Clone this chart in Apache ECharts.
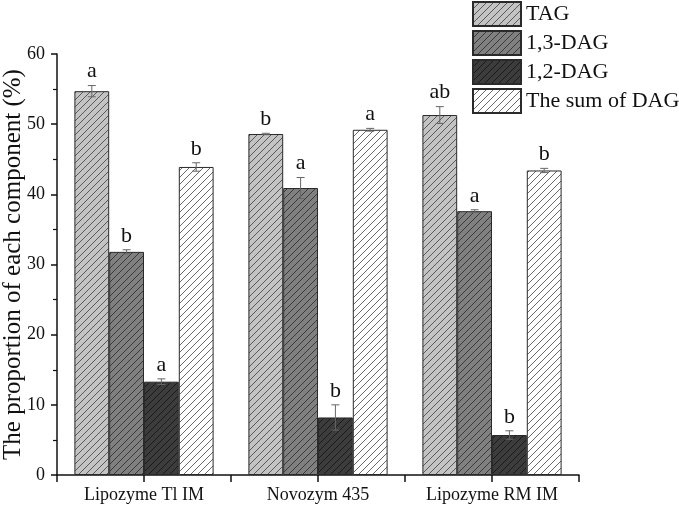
<!DOCTYPE html>
<html>
<head>
<meta charset="utf-8">
<script src="https://cdn.jsdelivr.net/npm/echarts@6/dist/echarts.min.js"></script>
<style>html,body{margin:0;padding:0;background:#fff}#c{width:679px;height:508px}</style>
</head>
<body>
<div id="c"></div>
<script>
var categories = ['Lipozyme Tl IM', 'Novozym 435', 'Lipozyme RM IM'];
var seriesNames = ['TAG', '1,3-DAG', '1,2-DAG', 'The sum of DAG'];
var tagValues = [54.7, 48.6, 51.3];
var dag13Values = [31.8, 40.9, 37.6];
var dag12Values = [13.3, 8.2, 5.7];
var sumValues = [43.9, 49.2, 43.4];
var tagErr = [0.8, 0.1, 1.2];
var dag13Err = [0.3, 1.5, 0.2];
var dag12Err = [0.4, 1.8, 0.6];
var sumErr = [0.6, 0.2, 0.3];
var tagLetters = ['a', 'b', 'ab'];
var dag13Letters = ['b', 'a', 'a'];
var dag12Letters = ['a', 'b', 'b'];
var sumLetters = ['b', 'a', 'b'];
var yTicks = [0, 10, 20, 30, 40, 50, 60];

var values = [tagValues, dag13Values, dag12Values, sumValues];
var errs = [tagErr, dag13Err, dag12Err, sumErr];
var letters = [tagLetters, dag13Letters, dag12Letters, sumLetters];
var fills = ['#c3c3c3', '#808080', '#3c3c3c', '#ffffff'];
var hatch = ['#5a5a5a', '#3a3a3a', '#1a1a1a', '#6a6a6a'];

function makePattern(bg, line) {
  var s = 7;
  var cv = document.createElement('canvas');
  cv.width = s; cv.height = s;
  var ctx = cv.getContext('2d');
  ctx.fillStyle = bg; ctx.fillRect(0, 0, s, s);
  ctx.strokeStyle = line; ctx.lineWidth = 1;
  [0, s, 2 * s].forEach(function (c) {
    ctx.beginPath(); ctx.moveTo(0, c); ctx.lineTo(c, 0); ctx.stroke();
  });
  return { image: cv, repeat: 'repeat' };
}

var FONT = '"Liberation Serif", "Times New Roman", serif';
var chart = echarts.init(document.getElementById('c'), null, { renderer: 'canvas' });

var series = [];
seriesNames.forEach(function (name, i) {
  series.push({
    name: name,
    type: 'bar',
    xAxisIndex: 0,
    barWidth: '20%',
    barGap: '0%',
    data: values[i],
    itemStyle: { color: makePattern(fills[i], hatch[i]), borderColor: '#2a2a2a', borderWidth: 1 },
    emphasis: { disabled: true },
    silent: true
  });
});
seriesNames.forEach(function (name, i) {
  series.push({
    name: name + '_err',
    type: 'custom',
    xAxisIndex: 0,
    silent: true,
    z: 10,
    data: values[i].map(function (v, k) { return [k, v, errs[i][k]]; }),
    renderItem: function (params, api) {
      var k = api.value(0), v = api.value(1), e = api.value(2);
      var band = api.size([1, 0])[0];
      var off = (i - 1.5) * band * 0.2;
      var top = api.coord([k, v + e]);
      var bot = api.coord([k, v - e]);
      var x = top[0] + off;
      var cap = 4;
      var st = { stroke: '#666', lineWidth: 1 };
      return {
        type: 'group',
        children: [
          { type: 'line', shape: { x1: x, y1: top[1], x2: x, y2: bot[1] }, style: st },
          { type: 'line', shape: { x1: x - cap, y1: top[1], x2: x + cap, y2: top[1] }, style: st },
          { type: 'line', shape: { x1: x - cap, y1: bot[1], x2: x + cap, y2: bot[1] }, style: st },
          { type: 'text', x: x, y: top[1] - 3, style: { text: letters[i][k], fill: '#111', font: '22px ' + FONT, align: 'center', verticalAlign: 'bottom' } }
        ]
      };
    }
  });
});

chart.setOption({
  animation: false,
  backgroundColor: '#fff',
  grid: { left: 57, right: 100, top: 54, bottom: 33, containLabel: false, outerBoundsMode: 'none' },
  legend: {
    data: seriesNames.map(function (n) { return { name: n, icon: 'rect' }; }),
    orient: 'vertical',
    left: 472,
    top: 1,
    itemWidth: 48,
    itemHeight: 24,
    itemGap: 3,
    selectedMode: false,
    textStyle: { fontFamily: FONT, fontSize: 22, color: '#111', lineHeight: 24, padding: [0, 0, 0, 0] },
    padding: 0
  },
  xAxis: [
    {
      type: 'category',
      data: categories,
      axisLine: { show: true, lineStyle: { color: '#111', width: 1.5 } },
      axisTick: { show: false },
      axisLabel: { fontFamily: FONT, fontSize: 18, color: '#111', margin: 11 },
      splitLine: { show: false }
    },
    {
      type: 'category',
      data: ['', '', '', '', '', ''],
      position: 'bottom',
      axisLine: { show: false },
      axisTick: { show: true, length: 7, lineStyle: { color: '#111', width: 1.5 } },
      axisLabel: { show: false },
      splitLine: { show: false }
    }
  ],
  yAxis: {
    type: 'value',
    min: yTicks[0],
    max: yTicks[yTicks.length - 1],
    interval: 10,
    name: 'The proportion of each component (%)',
    nameLocation: 'middle',
    nameGap: 31,
    nameMoveOverlap: false,
    nameRotate: 90,
    nameTextStyle: { fontFamily: FONT, fontSize: 25, color: '#111' },
    axisLine: { show: true, lineStyle: { color: '#111', width: 1.5 } },
    axisTick: { show: true, length: 6, lineStyle: { color: '#111', width: 1.5 } },
    minorTick: { show: true, splitNumber: 2, length: 4, lineStyle: { color: '#111', width: 1.2 } },
    axisLabel: { fontFamily: FONT, fontSize: 18, color: '#111', margin: 12 },
    splitLine: { show: false }
  },
  series: series
});
</script>
</body>
</html>
